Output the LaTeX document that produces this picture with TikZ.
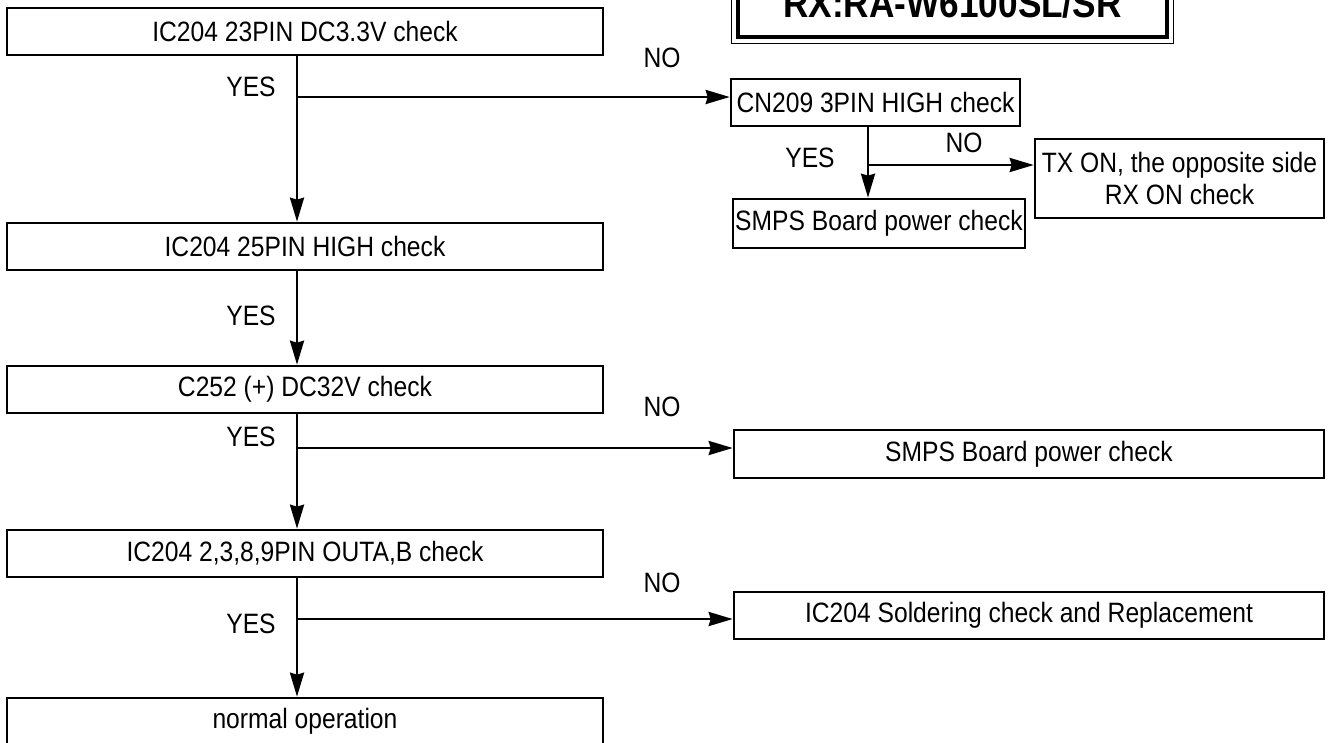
\documentclass[tikz,border=0pt]{standalone}
\usepackage{fontspec}
\setmainfont{Liberation Sans}[FakeStretch=0.88]
\usetikzlibrary{arrows.meta}
\newcommand{\boxfont}{\fontsize{28}{32}\selectfont}
\newcommand{\titlefont}{\fontsize{40}{44}\selectfont\bfseries}

\begin{document}
\begin{tikzpicture}[x=1pt, y=-1pt, >={Stealth[length=24pt, width=14pt, inset=2pt]}]
    % Node styles
    \tikzstyle{box} = [draw, line width=2.6pt, align=center, inner sep=0pt, font=\boxfont]
    \tikzstyle{lbl} = [align=center, inner sep=0pt, font=\boxfont]
    \tikzstyle{wire} = [line width=2.6pt]

    \useasboundingbox (0,0) rectangle (1332,742);

    % Title
    \node[box, line width=3.5pt, minimum width=429pt, minimum height=67pt, font=\titlefont] (title) at (952.5,3.5) {RX:RA-W6100SL/SR};
    \draw[line width=1.2pt] ([shift={(-5,-5)}]title.north west) rectangle ([shift={(5,5)}]title.south east);

    % Nodes
    % main column
    \node[box, minimum width=596pt, minimum height=47pt] (c1) at (305,31.5) {IC204 23PIN DC3.3V check};
    \node[box, minimum width=596pt, minimum height=47pt] (c2) at (305,246.5) {IC204 25PIN HIGH check};
    \node[box, minimum width=596pt, minimum height=47pt] (c3) at (305,389.5) {C252 (+) DC32V check};
    \node[box, minimum width=596pt, minimum height=47pt] (c4) at (305,553.5) {IC204 2,3,8,9PIN OUTA,B check};
    \node[box, minimum width=596pt, minimum height=47pt] (c5) at (305,721.5) {normal operation};

    % right side
    \node[box, minimum width=289pt, minimum height=47pt] (cn209) at (875.5,102.5) {CN209 3PIN HIGH check};
    \node[box, minimum width=292pt, minimum height=49pt] (smps1) at (879,223.5) {SMPS Board power check};
    \node[box, minimum width=289pt, minimum height=79pt] (txon) at (1179.5,178.5) {TX ON, the opposite side\\RX ON check};
    \node[box, minimum width=590pt, minimum height=48pt] (smps2) at (1029,454) {SMPS Board power check};
    \node[box, minimum width=590pt, minimum height=47pt] (solder) at (1029,615.5) {IC204 Soldering check and Replacement};

    % Labels
    \node[lbl] (y1) at (251,87) {YES};
    \node[lbl] (no1) at (662,58) {NO};
    \node[lbl] (y2) at (251,316) {YES};
    \node[lbl] (y3) at (251,437) {YES};
    \node[lbl] (no3) at (662,407) {NO};
    \node[lbl] (y4) at (251,624) {YES};
    \node[lbl] (no4) at (662,583) {NO};
    \node[lbl] (y5) at (810,158) {YES};
    \node[lbl] (no5) at (964,143) {NO};

    % Junctions
    \coordinate (j1) at (297,97);
    \coordinate (j3) at (297,448);
    \coordinate (j4) at (297,619);
    \coordinate (k1) at (868,165);

    % Edges
    \draw[wire, ->] (c1.south -| j1) -- (c2.north -| j1);
    \draw[wire, ->] (c2.south -| j1) -- (c3.north -| j1);
    \draw[wire, ->] (c3.south -| j1) -- (c4.north -| j1);
    \draw[wire, ->] (c4.south -| j1) -- (c5.north -| j1);

    \draw[wire, ->] (j1) -- (j1 -| cn209.west);
    \draw[wire, ->] (j3) -- (j3 -| smps2.west);
    \draw[wire, ->] (j4) -- (j4 -| solder.west);

    \draw[wire, ->] (cn209.south -| k1) -- (smps1.north -| k1);
    \draw[wire, ->] (k1) -- (k1 -| txon.west);

\end{tikzpicture}
\end{document}
